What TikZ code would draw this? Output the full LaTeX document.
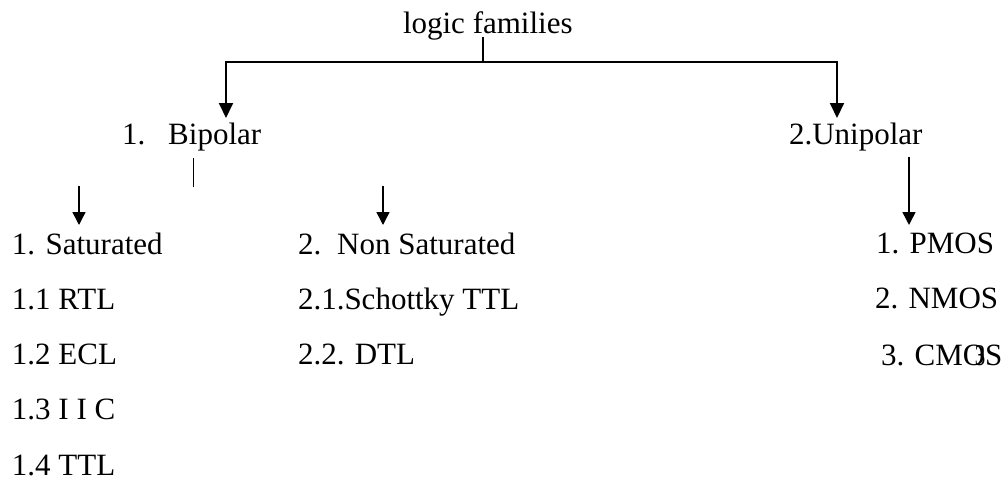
\documentclass[tikz,border=0pt]{standalone}
\usepackage{fontspec}
\setmainfont{Liberation Serif}
\usetikzlibrary{arrows.meta}
\begin{document}
\begin{tikzpicture}[x=1pt,y=-1pt,
  lbl/.style={anchor=base west,inner sep=0pt,outer sep=0pt,font=\fontsize{31}{36}\selectfont},
  topline/.style={line width=2pt},
  toparr/.style={line width=2pt,-{Triangle[width=14pt,length=15pt]}},
  subarr/.style={line width=1.5pt,-{Triangle[width=13pt,length=13pt]}},
  bar/.style={line width=1pt}]
\useasboundingbox (0,0) rectangle (1005,480);
% texts
\node[lbl] (lf) at (403,33) {logic families};
\node[lbl] (bip) at (122,144) {1.\hspace{23pt}Bipolar};
\node[lbl] (uni) at (789,144) {2.Unipolar};
\node[lbl] (sat) at (12,254) {1. Saturated};
\node[lbl] (rtl) at (12,309) {1.1 RTL};
\node[lbl] (ecl) at (12,364) {1.2 ECL};
\node[lbl] (iic) at (12,419) {1.3 I I C};
\node[lbl] (ttl) at (12,475) {1.4 TTL};
\node[lbl] (nsat) at (298,254) {2.\hspace{16pt}Non Saturated};
\node[lbl] (stt) at (298,309) {2.1.Schottky TTL};
\node[lbl] (dtl) at (298,364) {2.2. DTL};
\node[lbl] (pmos) at (876,253) {1. PMOS};
\node[lbl] (nmos) at (875,308) {2. NMOS};
\node[lbl] (cmos) at (881,365) {3. CMOS};
\node[anchor=base,inner sep=0pt,font=\fontsize{30}{34}\selectfont,xscale=0.7] (three) at (980,365) {3};
% connector points
\coordinate (jt) at (483,37);
\coordinate (jm) at (483,62);
\coordinate (bt) at (226,118);
\coordinate (ut) at (837,118);
\coordinate (sa) at (79,186);
\coordinate (sb) at (79,225);
\coordinate (na) at (383,186);
\coordinate (nb) at (383,225);
\coordinate (ua) at (909,157);
\coordinate (ub) at (909,225);
\coordinate (ba) at (193,158);
\coordinate (bb) at (193,187);
% connectors
\draw[topline] (jt) -- (jm);
\draw[toparr] (jm) -| (bt);
\draw[toparr] (jm) -| (ut);
\draw[bar] (ba) -- (bb);
\draw[subarr] (sa) -- (sb);
\draw[subarr] (na) -- (nb);
\draw[subarr] (ua) -- (ub);
\end{tikzpicture}
\end{document}
